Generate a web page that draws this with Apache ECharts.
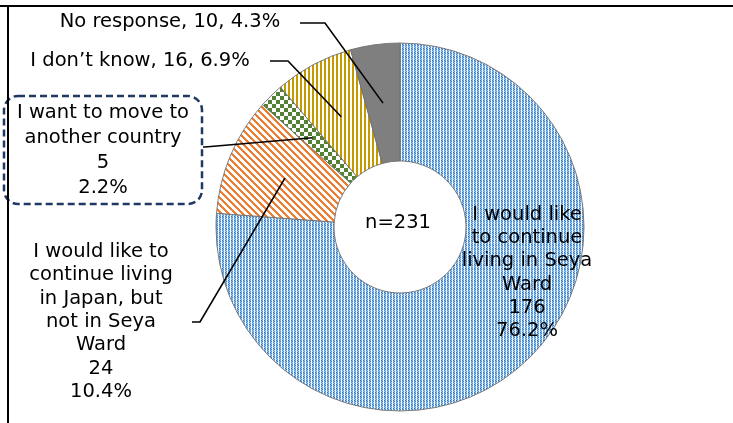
<!DOCTYPE html>
<html>
<head>
<meta charset="utf-8">
<script src="https://cdn.jsdelivr.net/npm/echarts@6/dist/echarts.min.js"></script>
<style>
html,body{margin:0;padding:0;background:#fff;}
#main{width:733px;height:423px;}
</style>
</head>
<body>
<div id="main"></div>
<script>
// ---- data ----
const categories = [
  'I would like\nto continue\nliving in Seya\nWard',
  'I would like to\ncontinue living\nin Japan, but\nnot in Seya\nWard',
  'I want to move to\nanother country',
  "I don\u2019t know",
  'No response'
];
const counts = [176, 24, 5, 16, 10];
const percents = ['76.2%', '10.4%', '2.2%', '6.9%', '4.3%'];
const totalLabel = 'n=231';

// ---- patterns ----
function makeTile(w, h, fn) {
  const c = document.createElement('canvas');
  c.width = w; c.height = h;
  const ctx = c.getContext('2d');
  for (let y = 0; y < h; y++) for (let x = 0; x < w; x++) {
    ctx.fillStyle = fn(x, y);
    ctx.fillRect(x, y, 1, 1);
  }
  return c;
}
const blueCols = [
  ['#2E75B6', '#7FB2E3', '#4A8FD4', '#9DC3E6'],
  ['#8DBBE8', '#3D84CB', '#A9CBEC', '#5596D6'],
  ['#FFFFFF', '#E4EEF9', '#FFFFFF', '#EEF4FB']
];
const blueTile = makeTile(3, 4, (x, y) => blueCols[x][y]);
const orangeTile = makeTile(7, 7, (x, y) => (((x - y) % 7 + 7) % 7 < 3) ? '#ED7D31' : '#FFFFFF');
const greenTile = makeTile(8, 8, (x, y) => ((Math.floor(x / 4) + Math.floor(y / 4)) % 2 === 0) ? '#548235' : '#FFFFFF');
const goldTile = makeTile(4, 4, (x, y) => (x % 4 < 2) ? '#C49A00' : '#FFFFFF');
const sliceColors = [
  { image: blueTile, repeat: 'repeat' },
  { image: orangeTile, repeat: 'repeat' },
  { image: greenTile, repeat: 'repeat' },
  { image: goldTile, repeat: 'repeat' },
  '#7F7F7F'
];

// ---- layout ----
const CX = 400, CY = 227, R0 = 66, R1 = 184;
const total = counts.reduce((a, b) => a + b, 0);
function midPoint(i) {
  let before = 0;
  for (let k = 0; k < i; k++) before += counts[k];
  const frac = (before + counts[i] / 2) / total;
  const ang = frac * 2 * Math.PI; // clockwise from top
  const r = (R0 + R1) / 2;
  return [CX + r * Math.sin(ang), CY - r * Math.cos(ang)];
}
const labelPos = [
  { x: 527, y: 273, line: null },
  { x: 101, y: 322, line: [[192, 322], [200, 322]] },
  { x: 103, y: 150, line: [[203, 147], [205, 147]] },
  { x: 140, y: 61, line: [[270, 61], [288, 61]] },
  { x: 170, y: 22, line: [[300, 23], [325, 23]] }
];

const FONT = '"DejaVu Sans", sans-serif';
const FS = 19.5;

const data = categories.map((name, i) => {
  const isLast2 = (i === 3 || i === 4);
  return {
    name: name,
    value: counts[i],
    itemStyle: { color: sliceColors[i] },
    label: {
      formatter: isLast2 ? (name + ', ' + counts[i] + ', ' + percents[i]) : (name + '\n' + counts[i] + '\n' + percents[i]),
      lineHeight: i === 2 ? 25 : 23.3
    }
  };
});
data[2].label.borderColor = '#1F3864';
data[2].label.borderWidth = 2.5;
data[2].label.borderType = [7, 4];
data[2].label.borderRadius = 14;
data[2].label.padding = [4, 12, 4, 12];
data[2].label.width = 174;

const guideLines = [];
for (let i = 0; i < counts.length; i++) {
  const lp = labelPos[i];
  if (!lp.line) continue;
  guideLines.push({
    type: 'polyline',
    shape: { points: [lp.line[0], lp.line[1], midPoint(i)] },
    style: { stroke: '#000', lineWidth: 1.6, fill: null },
    z: 100
  });
}

const chart = echarts.init(document.getElementById('main'), null, { renderer: 'canvas' });
chart.setOption({
  animation: false,
  backgroundColor: '#fff',
  graphic: [
    { type: 'line', shape: { x1: 0, y1: 6, x2: 733, y2: 6 }, style: { stroke: '#000', lineWidth: 2 }, z: 100 },
    { type: 'line', shape: { x1: 8, y1: 6, x2: 8, y2: 423 }, style: { stroke: '#000', lineWidth: 2 }, z: 100 },
    { type: 'text', x: 398, y: 223, style: { text: totalLabel, font: FS + 'px ' + FONT, fill: '#000', align: 'center', verticalAlign: 'middle' }, z: 100 }
  ].concat(guideLines),
  series: [{
    type: 'pie',
    center: [CX, CY],
    radius: [R0, R1],
    startAngle: 90,
    clockwise: true,
    avoidLabelOverlap: false,
    itemStyle: { borderColor: '#6F6F6F', borderWidth: 0.9 },
    emphasis: { disabled: true },
    label: {
      show: true,
      position: 'outside',
      color: '#000',
      fontSize: FS,
      fontFamily: FONT,
      align: 'center'
    },
    labelLine: { show: false },
    labelLayout: function (p) {
      const lp = labelPos[p.dataIndex];
      return { x: lp.x, y: lp.y, align: 'center', verticalAlign: 'middle' };
    },
    data: data
  }]
});
</script>
</body>
</html>
